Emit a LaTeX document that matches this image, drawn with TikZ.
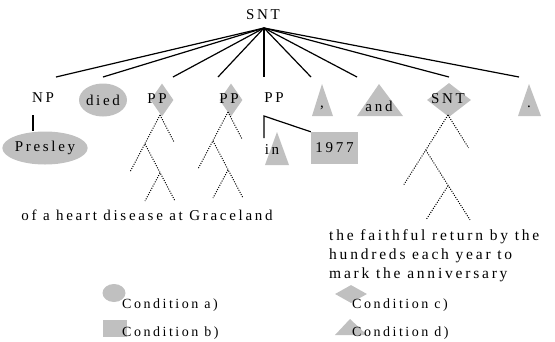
\documentclass[tikz,border=0pt]{standalone}
\usepackage{fontspec}
\setmainfont{Liberation Serif}[LetterSpace=18]
\usetikzlibrary{shapes.geometric}
\definecolor{blobgray}{RGB}{192,192,192}
\tikzset{
  dottree/.pic={
    \draw[dotline] (0,0) -- (14,27);
    \draw[dotline] (0,0) -- (-30,57);
    \draw[dotline] (-15,29) -- (15,86);
    \draw[dotline] (0,58) -- (-15,86);
  }
}
\begin{document}
\begin{tikzpicture}[x=1pt,y=-1pt,
    every node/.style={inner sep=0pt,font=\fontsize{15}{19}\selectfont},
    branch/.style={line width=1.2pt},
    dotline/.style={line width=1pt,dash pattern=on 1pt off 1.4pt},
    blob/.style={fill=blobgray,draw=none},
    legtext/.style={anchor=west,font=\fontsize{14}{16}\selectfont}]
    \useasboundingbox (0,0) rectangle (555,341);

    % root and its nine branches
    \node (snt) at (263,15) {SNT};
    \coordinate (hub) at (264,28);
    \foreach \x [count=\i] in {56,103,173,218,264,311,357,449,519}
        \coordinate (end\i) at (\x,77);
    \foreach \i in {1,...,9}
        \draw[branch] (hub) -- (end\i);

    % first level
    \node (np) at (43,98) {NP};
    \node[blob,ellipse,minimum width=46pt,minimum height=33pt] (died) at (103,100) {died};
    \node[blob,diamond,minimum width=23pt,minimum height=33pt] (ppa-bg) at (162,100) {};
    \node (ppa) at (157,99) {PP};
    \node[blob,diamond,minimum width=23pt,minimum height=33pt] (ppb-bg) at (231,100) {};
    \node (ppb) at (229,99) {PP};
    \node (ppc) at (274,98) {PP};
    \fill[blobgray] (322,84) -- (333,116) -- (312,116) -- cycle;
    \node (comma) at (322,108) {,};
    \fill[blobgray] (379,84) -- (403,116) -- (357,116) -- cycle;
    \node (and) at (379,106) {and};
    \node[blob,diamond,minimum width=44pt,minimum height=34pt] (sntb-bg) at (449,100) {};
    \node (sntb) at (448,99) {SNT};
    \fill[blobgray] (529,84) -- (541,116) -- (518,116) -- cycle;
    \node (stop) at (529,107) {.};

    % second level
    \node[blob,ellipse,minimum width=70pt,minimum height=33pt] (presley) at (45,148) {Presley};
    \draw[branch] ([xshift=-10pt,yshift=-12pt]np.south) -- ([xshift=-12pt]presley.north);
    \fill[blobgray] (277,132) -- (289,165) -- (265,165) -- cycle;
    \node (in) at (272,150) {in};
    \node[blob,minimum width=47pt,minimum height=32pt] (yr) at (334.5,148) {1977};
    \coordinate (fork) at (264,116);
    \draw[branch] (yr.north west) -- (fork) -- ++(0,22);

    % dotted subtrees
    \pic at (160,115) {dottree};
    \pic at (228,112) {dottree};
    \pic[xscale=1.47,yscale=1.22] at (448,115) {dottree};

    \node (graceland) at (147,215) {of a heart disease at Graceland};
    \node[anchor=north west,align=left,font=\fontsize{15.5}{19}\selectfont] (anniv) at (329,229)
        {the faithful return by the\\hundreds each year to\\mark the anniversary};

    % legend
    \node[blob,ellipse,minimum width=23pt,minimum height=18pt] (leg-a) at (114,293) {};
    \node[blob,minimum width=24pt,minimum height=17pt] (leg-b) at (115,328.5) {};
    \node[blob,diamond,minimum width=32pt,minimum height=18pt] (leg-c) at (351,294) {};
    \fill[blobgray] (350,319) -- (367,335) -- (335,335) -- cycle;
    \node[legtext] (cond-a) at (122,305) {Condition a)};
    \node[legtext] (cond-b) at (122,333) {Condition b)};
    \node[legtext] (cond-c) at (352,305) {Condition c)};
    \node[legtext] (cond-d) at (352,333) {Condition d)};
\end{tikzpicture}
\end{document}
